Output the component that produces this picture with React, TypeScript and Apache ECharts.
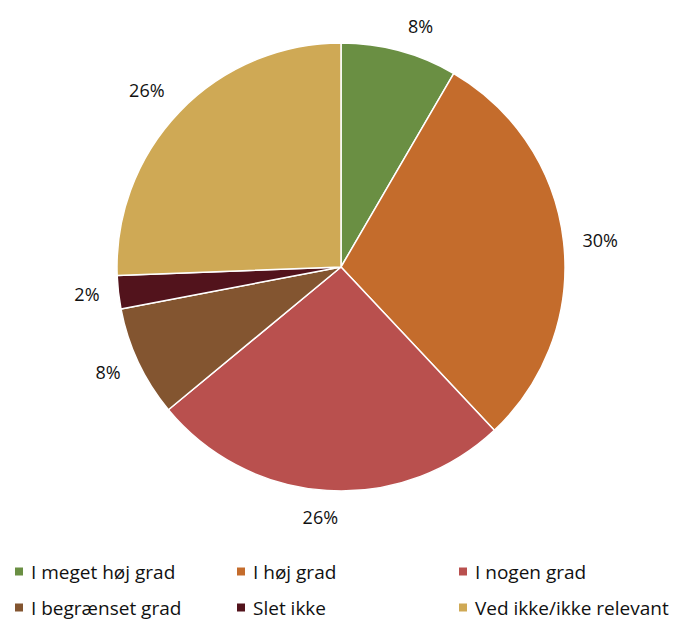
import React, { useEffect, useRef } from "react";
import * as echarts from "echarts";

const categories = [
  "I meget høj grad",
  "I høj grad",
  "I nogen grad",
  "I begrænset grad",
  "Slet ikke",
  "Ved ikke/ikke relevant",
];
const values = [8.4, 29.6, 26.0, 8.0, 2.4, 25.6];
const colors = ["#6A8F43", "#C46C2C", "#B9504E", "#835530", "#52131C", "#CFA955"];

const legendPos = [
  { left: 0, top: 549 },
  { left: 222, top: 549 },
  { left: 444, top: 549 },
  { left: 0, top: 585 },
  { left: 222, top: 585 },
  { left: 444, top: 585 },
];
const labelDy = [-11, 0, 12, 4, 0, -12];
const labelDx = [0, 0, 17, 0, 0, 0];

export default function App() {
  const ref = useRef<HTMLDivElement>(null);
  useEffect(() => {
    if (!ref.current) return;
    const chart = echarts.init(ref.current, undefined, { renderer: "svg" });
    const font = "'Open Sans', sans-serif";
    chart.setOption({
      animation: false,
      color: colors,
      textStyle: { fontFamily: font },
      legend: categories.map((c, i) => ({
        data: [c],
        left: legendPos[i].left,
        top: legendPos[i].top,
        icon: "rect",
        itemWidth: 10,
        itemHeight: 10,
        itemGap: 0,
        textStyle: { fontSize: 19, color: "#111", fontFamily: font, padding: [0, 0, 0, 2] },
        selectedMode: false,
      })),
      series: [
        {
          type: "pie",
          center: [333, 259],
          radius: [0, 224],
          startAngle: 90,
          clockwise: true,
          data: categories.map((c, i) => ({ name: c, value: values[i] })),
          itemStyle: { borderColor: "#fff", borderWidth: 1.5 },
          label: {
            show: true,
            position: "outside",
            formatter: (p: any) => Math.round(p.value) + "%",
            fontSize: 18,
            color: "#111",
            fontFamily: font,
          },
          labelLine: { show: false, length: 14, length2: 0 },
          labelLayout: (p: any) => ({ dy: labelDy[p.dataIndex], dx: labelDx[p.dataIndex] }),
        },
      ],
    });
    return () => chart.dispose();
  }, []);
  return <div ref={ref} style={{ width: 661, height: 611 }} />;
}
